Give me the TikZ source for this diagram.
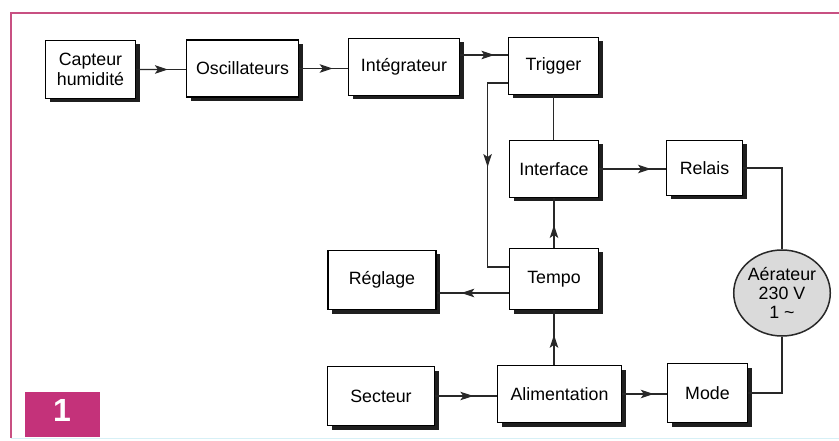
\documentclass[tikz,border=0pt]{standalone}
\usepackage{fontspec}
\setmainfont{Liberation Sans}
\usetikzlibrary{arrows.meta,calc,shadows,shapes.geometric}
\definecolor{framepink}{RGB}{200,80,130}
\definecolor{tagmag}{RGB}{196,50,122}
\definecolor{linegray}{RGB}{40,40,40}
\definecolor{fangray}{RGB}{218,218,218}
\definecolor{bottomcyan}{RGB}{215,240,246}
\begin{document}
\begin{tikzpicture}[x=1pt,y=-1pt,
  every node/.style={font=\fontsize{17.8}{20.5}\selectfont},
  blk/.style={draw=black,line width=1.8pt,fill=white,inner sep=0pt,align=center,
     general shadow={fill=black!88,shadow xshift=4pt,shadow yshift=-4pt}},
  conn/.style={draw=linegray,line width=1.2pt},
  tipped/.style={conn,-{Stealth[length=13pt,width=8.5pt,inset=3pt]}}]
\useasboundingbox (0,0) rectangle (839,441);
% frame
\draw[framepink,line width=1.2pt] (11,438) -- (11,13) -- (839,13);
\draw[bottomcyan,line width=1.5pt] (11,438.5) -- (839,438.5);
% blocks
\node[blk,minimum width=90pt,minimum height=58pt] (cap) at (90.5,69.5) {Capteur\\humidité};
\node[blk,minimum width=112pt,minimum height=57pt] (osc) at (242.5,68.5) {Oscillateurs};
\node[blk,minimum width=111pt,minimum height=57pt] (int) at (404,67) {Intégrateur};
\node[blk,minimum width=90pt,minimum height=57pt] (trig) at (553.5,66) {Trigger};
\node[blk,minimum width=89pt,minimum height=57pt] (itf) at (554,169) {Interface};
\node[blk,minimum width=76pt,minimum height=55pt] (rel) at (704.5,168) {Relais};
\node[blk,minimum width=89pt,minimum height=61pt] (tmp) at (554,279) {Tempo};
\node[blk,minimum width=108pt,minimum height=59pt] (reg) at (382,280) {Réglage};
\node[blk,minimum width=107pt,minimum height=59pt] (sec) at (381,396) {Secteur};
\node[blk,minimum width=124pt,minimum height=57pt] (ali) at (559.5,394) {Alimentation};
\node[blk,minimum width=80pt,minimum height=59pt] (mod) at (707.5,393) {Mode};
\node[ellipse,draw=linegray,line width=1.5pt,fill=fangray,minimum width=92pt,minimum height=86pt,
      inner sep=0pt,align=center,font=\fontsize{17.8}{19}\selectfont] (aer) at (782,293)
      {Aérateur\\230 V\\1 \textasciitilde};
% connector end points
\coordinate (a1) at (cap.east);  \coordinate (b1) at (cap.east -| osc.west);
\coordinate (a2) at (osc.east);  \coordinate (b2) at (osc.east -| int.west);
\coordinate (a3) at ([yshift=12pt]int.east); \coordinate (b3) at (a3 -| trig.west);
\coordinate (a4) at (tmp.north); \coordinate (b4) at (tmp.north |- itf.south);
\coordinate (a5) at (ali.north -| tmp.south); \coordinate (b5) at (tmp.south);
\coordinate (a6) at ([yshift=-14pt]tmp.west); \coordinate (b6) at (a6 -| reg.east);
\coordinate (a7) at (itf.east);  \coordinate (b7) at (itf.east -| rel.west);
\coordinate (a8) at (sec.east);  \coordinate (b8) at (sec.east -| ali.west);
\coordinate (a9) at (ali.east);  \coordinate (b9) at (ali.east -| mod.west);
\coordinate (fa) at ([yshift=-17pt]trig.west);
\coordinate (fb) at ([yshift=12pt]tmp.west);
% lines
\draw[conn] (a1) -- (b1);
\draw[conn] (a2) -- (b2);
\draw[conn] (a3) -- (b3);
\draw[conn] (trig.south) -- (trig.south |- itf.north);
\draw[conn] (fa) -- ++(-20,0) |- (fb);
\draw[conn] (a4) -- (b4);
\draw[conn] (a5) -- (b5);
\draw[conn] (a6) -- (b6);
\draw[conn] (a7) -- (b7);
\draw[conn] (rel.east) -| (aer.north);
\draw[conn] (a8) -- (b8);
\draw[conn] (a9) -- (b9);
\draw[conn] (mod.east) -| (aer.south);
% arrowheads, tips placed along the lines
\draw[tipped] (a1) -- ($(a1)!0.64!(b1)$);
\draw[tipped] (a2) -- ($(a2)!0.69!(b2)$);
\draw[tipped] (a3) -- ($(a3)!0.72!(b3)$);
\draw[tipped] (fa) -- ++(-20,0) -- ++(0,84);
\draw[tipped] (a4) -- ($(a4)!0.46!(b4)$);
\draw[tipped] (a5) -- ($(a5)!0.55!(b5)$);
\draw[tipped] (a6) -- ($(a6)!0.66!(b6)$);
\draw[tipped] (a7) -- ($(a7)!0.78!(b7)$);
\draw[tipped] (a8) -- ($(a8)!0.62!(b8)$);
\draw[tipped] (a9) -- ($(a9)!0.71!(b9)$);
% figure tag
\node[fill=tagmag,minimum width=75pt,minimum height=45pt,inner sep=0pt] (tag) at (62.5,414.5) {};
\node[text=white,inner sep=0pt,font=\fontsize{32}{32}\selectfont\bfseries] (tagnum) at (62,410) {1};
\end{tikzpicture}
\end{document}
